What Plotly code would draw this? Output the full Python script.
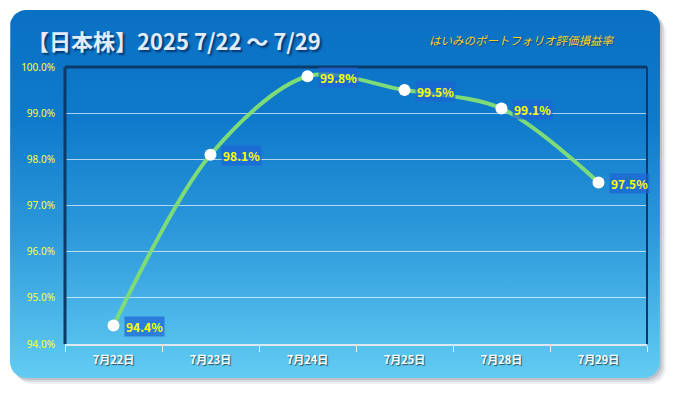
import numpy as np
import plotly.graph_objects as go

# ---- data ----
dates = ["7月22日", "7月23日", "7月24日", "7月25日", "7月28日", "7月29日"]
values = [94.4, 98.1, 99.8, 99.5, 99.1, 97.5]
y_ticks = [94, 95, 96, 97, 98, 99, 100]
y_tick_labels = ["94.0%", "95.0%", "96.0%", "97.0%", "98.0%", "99.0%", "100.0%"]
title_text = "【日本株】2025 7/22 〜 7/29"
subtitle_text = "はいみのポートフォリオ評価損益率"

OFF = 8  # page body margin
W, H = 675 - OFF, 393 - OFF
PL, PR, PT, PB = 65 - OFF, 647 - OFF, 67 - OFF, 344 - OFF  # plot area in figure pixels
CX0, CY0, CX1, CY1 = 10 - OFF, 10 - OFF, 660 - OFF, 378 - OFF  # card


def rounded_rect(x0, y0, x1, y1, r, n=10):
    xs, ys = [], []
    corners = [(x1 - r, y0 + r, -90, 0), (x1 - r, y1 - r, 0, 90),
               (x0 + r, y1 - r, 90, 180), (x0 + r, y0 + r, 180, 270)]
    for cx, cy, a0, a1 in corners:
        for a in np.linspace(np.radians(a0), np.radians(a1), n):
            xs.append(cx + r * np.cos(a))
            ys.append(cy + r * np.sin(a))
    xs.append(xs[0]); ys.append(ys[0])
    return xs, ys


fig = go.Figure()

# card shadow
for off, op in [(6, 0.10), (4, 0.15), (2, 0.2)]:
    sx, sy = rounded_rect(CX0 + off, CY0 + off, CX1 + off, CY1 + off, 16)
    fig.add_trace(go.Scatter(x=sx, y=sy, mode="lines", fill="toself",
                             fillcolor=f"rgba(90,100,115,{op})", line=dict(width=0),
                             hoverinfo="skip", showlegend=False, xaxis="x", yaxis="y"))

# card with vertical gradient
cx, cy = rounded_rect(CX0, CY0, CX1, CY1, 16)
fig.add_trace(go.Scatter(
    x=cx, y=cy, mode="lines", fill="toself", line=dict(width=0),
    fillgradient=dict(type="vertical", start=CY0, stop=CY1,
                      colorscale=[[0, "#0a70c3"], [0.3, "#0f7acb"], [0.6, "#2c98da"], [1, "#62ccf3"]]),
    hoverinfo="skip", showlegend=False, xaxis="x", yaxis="y"))

# main line
fig.add_trace(go.Scatter(
    x=dates, y=values, mode="lines+markers",
    line=dict(color="#7edc78", width=4, shape="spline", smoothing=0.9),
    marker=dict(color="white", size=12, line=dict(width=0)),
    hoverinfo="skip", showlegend=False, xaxis="x2", yaxis="y2"))

for d, v in zip(dates, values):
    fig.add_annotation(
        x=d, y=v, xref="x2", yref="y2", text=f"<b>{v:.1f}%</b>", showarrow=False,
        xanchor="left", yanchor="middle", xshift=10, yshift=-1,
        bgcolor="rgba(28,100,212,0.7)", borderpad=1,
        font=dict(family="Noto Sans CJK JP, sans-serif", size=12, color="#ffff00"))

# plot frame
frame = "#0b3a68"
fig.add_shape(type="line", xref="paper", yref="paper", x0=PL / W, x1=PR / W,
              y0=1 - PT / H, y1=1 - PT / H, line=dict(color=frame, width=3))
fig.add_shape(type="line", xref="paper", yref="paper", x0=PL / W, x1=PL / W,
              y0=1 - PT / H, y1=1 - PB / H, line=dict(color=frame, width=3))
fig.add_shape(type="line", xref="paper", yref="paper", x0=PR / W, x1=PR / W,
              y0=1 - PT / H, y1=1 - PB / H, line=dict(color=frame, width=2))

# titles
fig.add_annotation(x=(174 - OFF) / W, y=1 - (40 - OFF) / H, xref="paper", yref="paper",
                   showarrow=False, xanchor="center", yanchor="middle",
                   text=f"<b>{title_text}</b>",
                   font=dict(family="Noto Sans CJK JP, sans-serif", size=22, color="#e2ecf8",
                             shadow="2px 2px 2px rgba(0,40,90,0.8)"))
fig.add_annotation(x=(521 - OFF) / W, y=1 - (40 - OFF) / H, xref="paper", yref="paper",
                   showarrow=False, xanchor="center", yanchor="middle",
                   text=subtitle_text,
                   font=dict(family="Noto Sans CJK JP, sans-serif", size=11.5, color="#ffd21a",
                             style="italic", shadow="1px 1px 1px rgba(0,40,90,0.6)"))

fig.update_layout(
    width=W, height=H, margin=dict(l=0, r=0, t=0, b=0),
    paper_bgcolor="white", plot_bgcolor="rgba(0,0,0,0)",
    xaxis=dict(range=[0, W], domain=[0, 1], visible=False, fixedrange=True),
    yaxis=dict(range=[H, 0], domain=[0, 1], visible=False, fixedrange=True),
    xaxis2=dict(domain=[PL / W, PR / W], anchor="y2", type="category",
                range=[-0.5, 5.5], showgrid=False, showline=True, linecolor="#dce9f3",
                linewidth=2, ticks="outside", tickson="boundaries", ticklen=6,
                tickcolor="#e8f0f6", automargin=False, ticklabelstandoff=5,
                tickfont=dict(family="Noto Sans CJK JP, sans-serif", size=11, color="white",
                              weight="bold", shadow="1px 1px 1px rgba(0,0,0,0.6)")),
    yaxis2=dict(domain=[1 - PB / H, 1 - PT / H], anchor="x2", range=[94, 100],
                tickvals=y_ticks, ticktext=y_tick_labels, showgrid=True,
                gridcolor="rgba(255,255,255,0.65)", gridwidth=1, showline=False,
                zeroline=False, ticks="", automargin=False, ticklabelstandoff=9,
                tickfont=dict(family="Noto Sans, sans-serif", size=10, color="#ffff33")),
)

fig.write_html("out.html")
